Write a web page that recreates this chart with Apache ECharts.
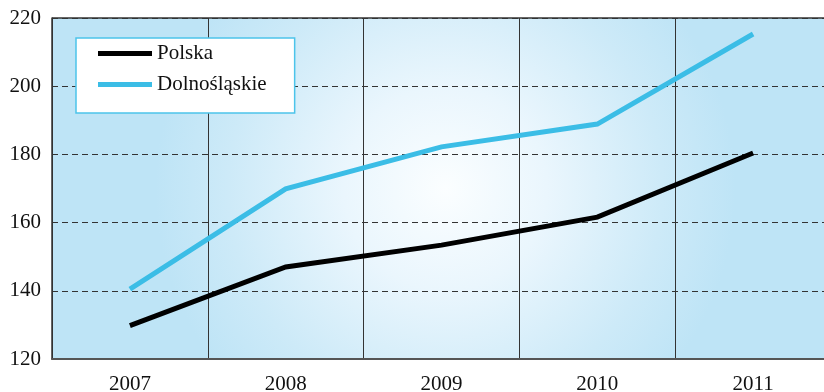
<!DOCTYPE html>
<html>
<head>
<meta charset="utf-8">
<script src="https://cdn.jsdelivr.net/npm/echarts@6/dist/echarts.min.js"></script>
<style>
  html, body { margin: 0; padding: 0; background: #fff; }
  #chart { width: 824px; height: 392px; }
</style>
</head>
<body>
<div id="chart"></div>
<script>
// Years on the category axis
const years = ['2007', '2008', '2009', '2010', '2011'];
// Index values per year
const polska = [129.8, 147.0, 153.4, 161.6, 180.4];
const dolnoslaskie = [140.5, 169.9, 182.2, 188.9, 215.3];
// Value axis range
const yMin = 120;
const yMax = 220;
const yStep = 20;

const serif = '"Liberation Serif", "DejaVu Serif", serif';

const chart = echarts.init(document.getElementById('chart'), null, { renderer: 'canvas' });

chart.setOption({
  animation: false,
  backgroundColor: '#ffffff',
  grid: {
    left: 52,
    top: 18,
    right: -7,
    bottom: 33,
    outerBoundsMode: 'none',
    containLabel: false,
    show: true,
    borderWidth: 0,
    backgroundColor: new echarts.graphic.RadialGradient(0.505, 0.5, 0.85, [
      { offset: 0, color: '#fbfeff' },
      { offset: 0.35, color: '#eaf6fd' },
      { offset: 0.75, color: '#cdeaf8' },
      { offset: 1, color: '#bee4f6' }
    ])
  },
  legend: {
    orient: 'vertical',
    left: 76,
    top: 38,
    padding: [5, 28, 18, 22],
    itemGap: 10,
    itemWidth: 54,
    itemHeight: 5,
    icon: 'rect',
    backgroundColor: '#ffffff',
    borderColor: '#4cc4ea',
    borderWidth: 1.5,
    borderRadius: 0,
    textStyle: { fontFamily: serif, fontSize: 21, color: '#111', padding: [0, 0, 0, 0] },
    data: [
      { name: 'Polska', itemStyle: { color: '#000000' } },
      { name: 'Dolnośląskie', itemStyle: { color: '#3bbde6' } }
    ]
  },
  xAxis: {
    type: 'category',
    data: years,
    boundaryGap: true,
    axisLine: { show: true, lineStyle: { color: '#555', width: 2 } },
    axisTick: { show: false },
    axisLabel: { fontFamily: serif, fontSize: 21, color: '#111', margin: 15 },
    splitLine: { show: true, interval: 0, lineStyle: { color: '#333', width: 1, type: 'solid' } }
  },
  yAxis: {
    type: 'value',
    min: yMin,
    max: yMax,
    interval: yStep,
    axisLine: { show: true, lineStyle: { color: '#333', width: 1.5 } },
    axisTick: { show: false },
    axisLabel: { fontFamily: serif, fontSize: 21, color: '#111', margin: 11 },
    splitLine: { show: true, lineStyle: { color: '#333', width: 1, type: [6, 4] } }
  },
  series: [
    {
      name: 'Polska',
      type: 'line',
      data: polska,
      symbol: 'none',
      lineStyle: { color: '#000000', width: 5, cap: 'butt', join: 'miter' },
      itemStyle: { color: '#000000' },
      z: 3
    },
    {
      name: 'Dolnośląskie',
      type: 'line',
      data: dolnoslaskie,
      symbol: 'none',
      lineStyle: { color: '#3bbde6', width: 5, cap: 'butt', join: 'miter' },
      itemStyle: { color: '#3bbde6' },
      z: 3
    }
  ],
  graphic: [
    {
      // top frame line of the plot area
      type: 'line',
      shape: { x1: 52, y1: 18, x2: 824, y2: 18 },
      style: { stroke: '#333', lineWidth: 1.5 },
      z: 10
    }
  ]
});
</script>
</body>
</html>
